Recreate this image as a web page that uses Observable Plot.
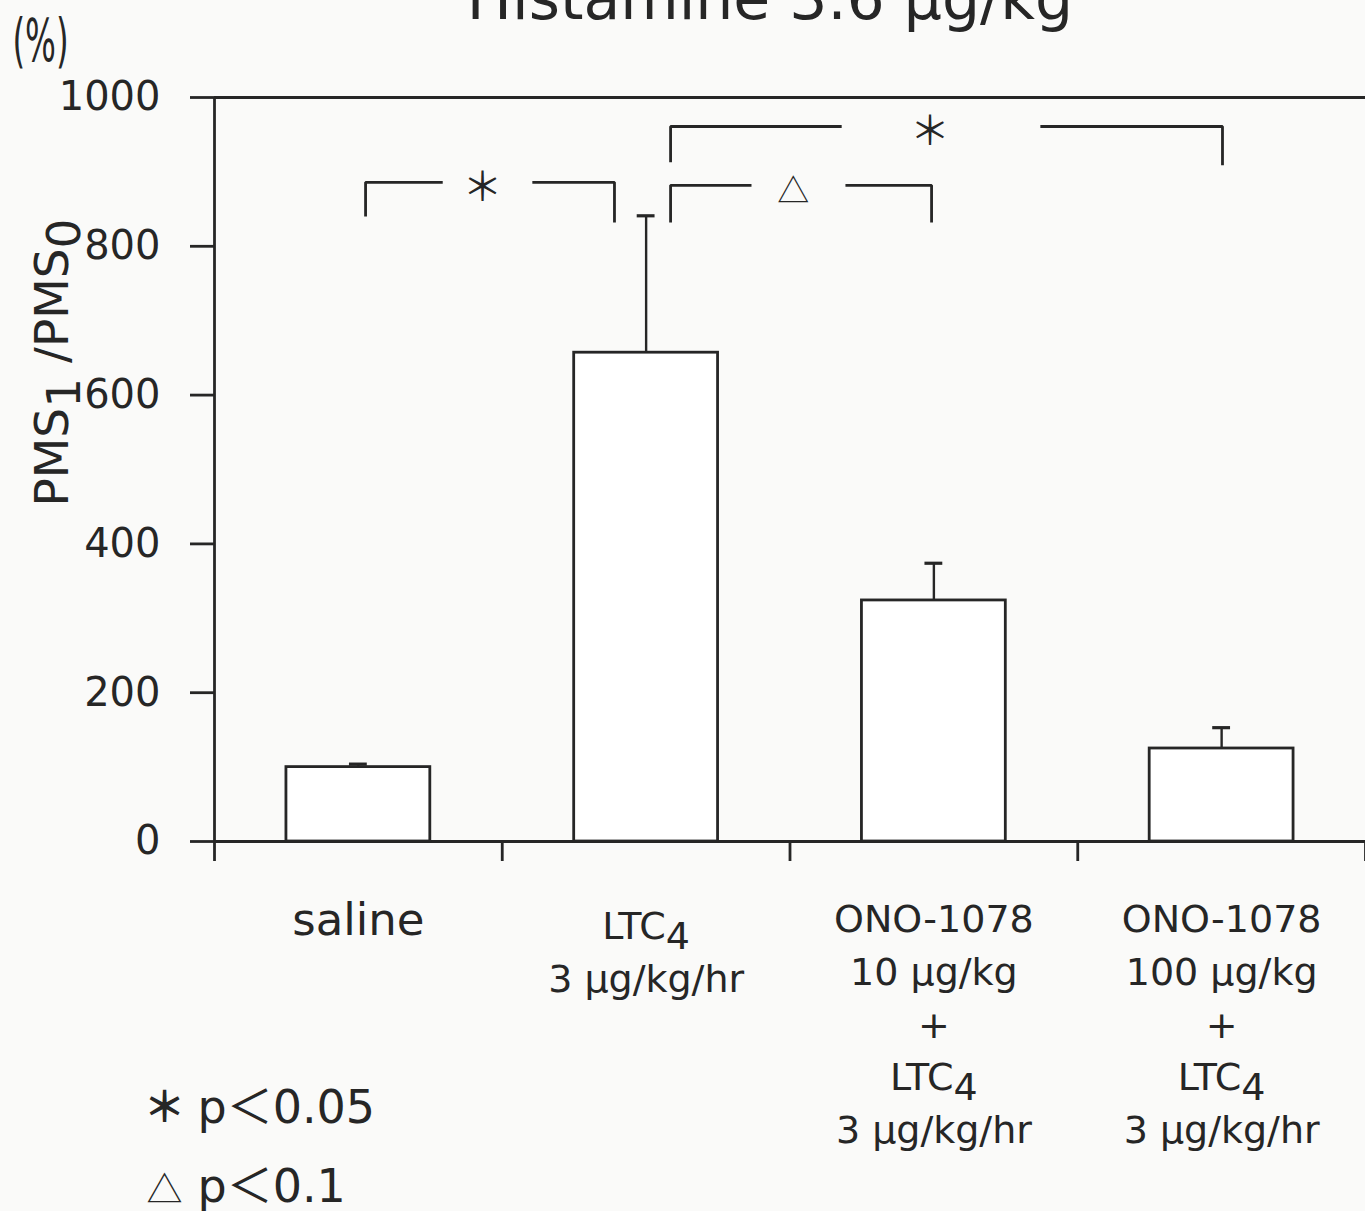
<!DOCTYPE html>
<html><head><meta charset="utf-8">
<script src="https://cdn.jsdelivr.net/npm/d3@7"></script>
<script src="https://cdn.jsdelivr.net/npm/@observablehq/plot@0.6"></script>
<style>
html,body{margin:0;padding:0;background:#fafaf9;}
#chart{width:1365px;height:1211px;overflow:hidden;}
</style></head><body><div id="chart"></div>
<script>
// ---- data ----
const categories = ["saline", "LTC4", "ONO-1078 10", "ONO-1078 100"];
const tickLabels = [
  "saline",
  "LTC_4\n3 μg/kg/hr",
  "ONO-1078\n10 μg/kg\n+\nLTC_4\n3 μg/kg/hr",
  "ONO-1078\n100 μg/kg\n+\nLTC_4\n3 μg/kg/hr"
];
const means = [100, 657, 324, 125];
const errors = [4, 184, 50, 28];
const yTicks = [0, 200, 400, 600, 800, 1000];
const comparisons = [
  {from: "saline", to: "LTC4", mark: "＊"},
  {from: "LTC4", to: "ONO-1078 10", mark: "△"},
  {from: "LTC4", to: "ONO-1078 100", mark: "＊"}
];
const legendSymbols = ["＊", "△"];
const legendTexts = ["p＜0.05", "p＜0.1"];
const title = "Histamine 3.6 μg/kg";
const yLabel = "PMS_1 /PMS_0";
const unitLabel = "(%)";

// ---- layout / style ----
const ink = "#262626";
const lw = 2.8;
const barHalf = 0.25, capHalf = 0.031;
const bracketLayout = [
  {top: 886, legFrom: 840, legTo: 832, nudgeFrom: 0.025, nudgeTo: -0.11},
  {top: 882, legFrom: 832, legTo: 832, nudgeFrom: 0.085, nudgeTo: -0.008},
  {top: 961, legFrom: 913, legTo: 909, nudgeFrom: 0.085, nudgeTo: 0.003}
];
const gapLo = 0.31, gapHi = 0.67, labelAt = 0.47;

const rows = categories.map((c, i) => ({c, i, label: tickLabels[i], mean: means[i], err: errors[i]}));
const idx = c => categories.indexOf(c);

const segs = [];
const bracketLabels = [];
comparisons.forEach((cmp, k) => {
  const L = bracketLayout[k];
  const xa = idx(cmp.from) + L.nudgeFrom, xb = idx(cmp.to) + L.nudgeTo;
  const at = f => xa + f * (xb - xa);
  segs.push({seg: k + "a", x: xa, y: L.legFrom}, {seg: k + "a", x: xa, y: L.top}, {seg: k + "a", x: at(gapLo), y: L.top});
  segs.push({seg: k + "b", x: at(gapHi), y: L.top}, {seg: k + "b", x: xb, y: L.top}, {seg: k + "b", x: xb, y: L.legTo});
  bracketLabels.push({x: at(labelAt), y: L.top, mark: cmp.mark});
});

const font = "DejaVu Sans, Noto Sans CJK JP, sans-serif";
const cjk = "Noto Sans CJK JP, DejaVu Sans, sans-serif";
const legendRowGap = 79, legendFirst = 267;

const plot = Plot.plot({
  width: 1365, height: 1211,
  marginLeft: 214, marginRight: 0, marginTop: 97, marginBottom: 370,
  style: {background: "transparent", fontFamily: font, color: ink},
  x: {type: "linear", domain: [-0.5, 3.5], axis: null},
  y: {domain: [0, 1000], axis: null},
  marks: [
    // frame lines
    Plot.ruleY([0, 1000], {stroke: ink, strokeWidth: lw + 0.2}),
    Plot.ruleX([-0.5], {stroke: ink, strokeWidth: lw}),
    Plot.axisY(yTicks, {anchor: "left", tickSize: 24, tickPadding: 30, tickFormat: d => String(d), fontSize: 40, color: ink, strokeWidth: lw, label: null}),
    Plot.axisX([-0.5, 0.5, 1.5, 2.5, 3.5], {anchor: "bottom", tickSize: 20, tickFormat: () => "", color: ink, strokeWidth: lw, label: null}),
    // bars
    Plot.rectY(rows, {x1: d => d.i - barHalf, x2: d => d.i + barHalf, y1: 0, y2: "mean", fill: "#ffffff", stroke: ink, strokeWidth: lw}),
    // error bars
    Plot.ruleX(rows, {x: "i", y1: "mean", y2: d => d.mean + d.err, stroke: ink, strokeWidth: lw - 0.4}),
    Plot.ruleY(rows, {y: d => d.mean + d.err, x1: d => d.i - capHalf, x2: d => d.i + capHalf, stroke: ink, strokeWidth: lw + 0.4}),
    // significance brackets
    Plot.line(segs, {x: "x", y: "y", z: "seg", stroke: ink, strokeWidth: lw, strokeLinejoin: "miter", strokeLinecap: "butt"}),
    Plot.text(bracketLabels, {x: "x", y: "y", text: "mark", fontFamily: cjk, fontWeight: d => d.mark === "△" ? 400 : 700, fontSize: d => d.mark === "△" ? 32 : 40, lineAnchor: "middle", dy: 6, fill: ink}),
    // category labels
    Plot.text(rows.filter(d => d.i === 0), {x: "i", frameAnchor: "bottom", text: "label", fontSize: 45, lineAnchor: "top", dy: 62, fill: ink}),
    Plot.text(rows.filter(d => d.i === 1), {x: "i", frameAnchor: "bottom", text: "label", fontSize: 38, lineHeight: 1.37, lineAnchor: "top", dy: 61, fill: ink}),
    Plot.text(rows.filter(d => d.i >= 2), {x: "i", frameAnchor: "bottom", text: "label", fontSize: 38, lineHeight: 1.39, lineAnchor: "top", dy: 53, fill: ink}),
    // title, y label, unit
    Plot.text([title], {text: d => d, frameAnchor: "top", textAnchor: "middle", dx: -20, dy: -98, fontSize: 60, lineAnchor: "middle", fill: ink}),
    Plot.text([yLabel], {text: d => d, frameAnchor: "left", textAnchor: "middle", rotate: -90, dx: -162, dy: -107, fontSize: 47, lineAnchor: "middle", fill: ink}),
    Plot.text([unitLabel], {text: d => d, frameAnchor: "top-left", textAnchor: "middle", dx: -174, dy: -55, fontSize: 58, lineAnchor: "middle", fill: ink, className: "pct"}),
    // legend
    ...legendSymbols.map((s, k) => Plot.text([s], {text: d => d, frameAnchor: "bottom-left", textAnchor: "middle", dx: -50, dy: legendFirst + k * legendRowGap + (s === "△" ? 4 : 0), fontFamily: cjk, fontWeight: s === "△" ? 400 : 700, fontSize: s === "△" ? 36 : 42, lineAnchor: "middle", fill: ink})),
    ...legendTexts.map((t, k) => Plot.text([t], {text: d => d, frameAnchor: "bottom-left", textAnchor: "start", dx: -17, dy: legendFirst + k * legendRowGap, fontSize: 46, lineAnchor: "middle", fill: ink}))
  ]
});

document.getElementById("chart").appendChild(plot);

// subscripts: "_x" -> lowered tspan
(function subscripts(root) {
  const nodes = [];
  const w = document.createTreeWalker(root, NodeFilter.SHOW_TEXT);
  while (w.nextNode()) if (w.currentNode.nodeValue.includes("_")) nodes.push(w.currentNode);
  for (const n of nodes) {
    const parts = n.nodeValue.split(/_(.)/);
    const frag = document.createDocumentFragment();
    parts.forEach((p, k) => {
      if (!p) return;
      if (k % 2 === 0) frag.appendChild(document.createTextNode(p));
      else {
        const t = document.createElementNS("http://www.w3.org/2000/svg", "tspan");
        t.setAttribute("baseline-shift", "-0.25em");
        t.style.baselineShift = "-0.25em";
        t.textContent = p;
        frag.appendChild(t);
      }
    });
    n.parentNode.replaceChild(frag, n);
  }
})(plot);

// condensed "(%)"
d3.select(plot).selectAll(".pct text").each(function() {
  const b = this.getBBox();
  const cx = b.x + b.width / 2;
  const t = this.getAttribute("transform") || "";
  this.setAttribute("transform", `${t} translate(${cx},0) scale(0.56,1) translate(${-cx},0)`);
});
</script></body></html>
